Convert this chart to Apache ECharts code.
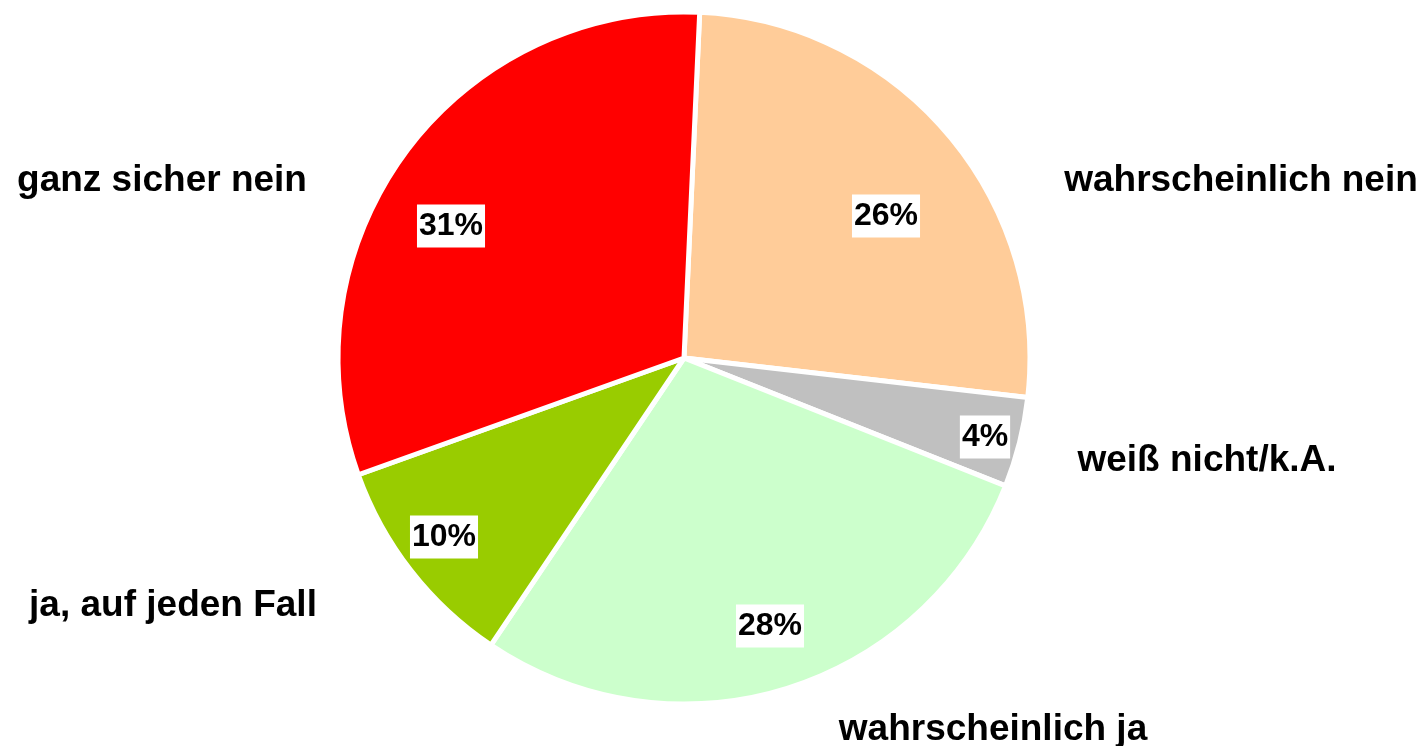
<!DOCTYPE html>
<html>
<head>
<meta charset="utf-8">
<script src="https://cdn.jsdelivr.net/npm/echarts@6/dist/echarts.min.js"></script>
<style>
  html, body { margin: 0; padding: 0; background: #fff; }
  #chart { width: 1424px; height: 746px; }
</style>
</head>
<body>
<div id="chart"></div>
<script>
// Antworten, im Uhrzeigersinn ab 12 Uhr
var categories = ['wahrscheinlich nein', 'weiß nicht/k.A.', 'wahrscheinlich ja', 'ja, auf jeden Fall', 'ganz sicher nein'];
var shares = [26.1, 4.2, 28.4, 10.1, 31.2];
var colors = ['#FFCC99', '#C0C0C0', '#CCFFCC', '#99CC00', '#FF0000'];

// Label-Positionen (Mitte des Textes)
var pctPos = [[886, 216], [985, 437], [770, 626], [444, 537], [451, 226]];
var namePos = [[1241, 181], [1207, 461], [993, 730], [173, 606], [162, 181]];

var font = 'Arial, "Liberation Sans", sans-serif';

var pieData = categories.map(function (name, i) {
    return { name: name, value: shares[i], itemStyle: { color: colors[i] } };
});

var chart = echarts.init(document.getElementById('chart'));
chart.setOption({
    animation: false,
    series: [
        {
            type: 'pie',
            center: [684, 358],
            radius: [0, 346],
            startAngle: 87.4,
            clockwise: true,
            avoidLabelOverlap: false,
            itemStyle: { borderColor: '#fff', borderWidth: 5 },
            emphasis: { disabled: true },
            label: {
                show: true,
                position: 'inside',
                formatter: function (p) { return Math.round(p.value) + '%'; },
                fontFamily: font,
                fontSize: 32,
                fontWeight: 'bold',
                color: '#000',
                backgroundColor: '#fff',
                padding: [6, 2, 5, 2]
            },
            labelLine: { show: false },
            labelLayout: function (p) {
                var pos = pctPos[p.dataIndex];
                return { x: pos[0], y: pos[1], align: 'center', verticalAlign: 'middle' };
            },
            data: pieData
        },
        {
            type: 'pie',
            silent: true,
            center: [684, 358],
            radius: [0, 346],
            startAngle: 87.4,
            clockwise: true,
            avoidLabelOverlap: false,
            itemStyle: { color: 'rgba(0,0,0,0)', borderWidth: 0 },
            label: {
                show: true,
                position: 'outside',
                formatter: '{b}',
                fontFamily: font,
                fontSize: 37,
                fontWeight: 'bold',
                color: '#000'
            },
            labelLine: { show: false },
            labelLayout: function (p) {
                var pos = namePos[p.dataIndex];
                return { x: pos[0], y: pos[1], align: 'center', verticalAlign: 'middle' };
            },
            data: categories.map(function (name, i) {
                return { name: name, value: shares[i] };
            })
        }
    ]
});
</script>
</body>
</html>
